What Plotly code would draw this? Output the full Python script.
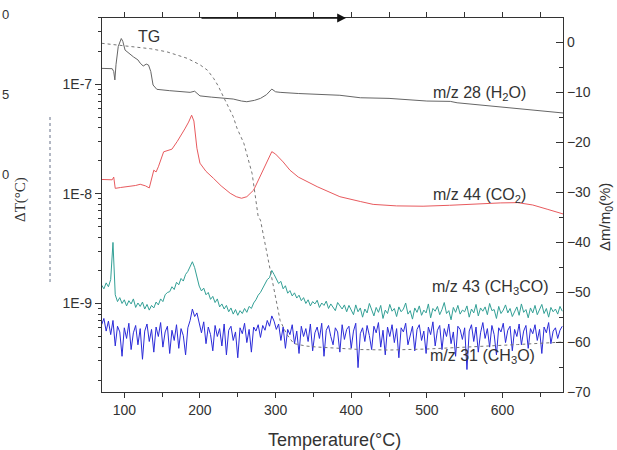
import plotly.graph_objects as go

# ---------------- data ----------------
# m/z 28 (H2O) ion current, units 1e-7 A
h2o_T = [70, 84, 86, 87.5, 89, 92, 96, 98, 101, 106, 112, 118, 121, 125, 129, 132, 135, 138, 143,
         160, 187, 193, 200, 215, 231, 244, 255, 262, 272, 280, 288, 295, 300, 306, 330, 360, 385,
         412, 450, 500, 525, 531, 540, 600, 640, 680]
h2o_v = [1.39, 1.38, 1.30, 1.09, 1.50, 2.20, 2.60, 2.45, 2.04, 1.90, 1.77, 1.66, 1.55, 1.46, 1.52, 1.49,
         1.30, 0.98, 0.895, 0.87, 0.84, 0.86, 0.78, 0.76, 0.74, 0.73, 0.70, 0.69, 0.71, 0.74, 0.80, 0.90,
         0.85, 0.84, 0.82, 0.80, 0.79, 0.75, 0.74, 0.70, 0.69, 0.695, 0.675, 0.617, 0.58, 0.545]

# m/z 44 (CO2) ion current, units 1e-8 A
co2_T = [70, 80, 84, 86, 88, 95, 105, 115, 121, 128, 133, 136, 139, 142, 145, 152, 158, 163, 170, 174,
         180, 185, 189, 192, 196, 200, 208, 218, 228, 240, 248, 255, 262, 271, 280, 288, 295, 300, 310,
         319, 330, 355, 385, 412, 429, 460, 495, 530, 560, 597, 620, 640, 660, 680]
co2_v = [1.35, 1.33, 1.34, 1.42, 1.12, 1.14, 1.16, 1.19, 1.22, 1.18, 1.13, 1.35, 1.64, 1.58, 1.76, 2.41,
         2.50, 2.55, 3.00, 3.30, 3.90, 4.50, 5.20, 4.60, 2.60, 1.90, 1.60, 1.38, 1.18, 1.01, 0.94, 0.91,
         0.94, 1.08, 1.45, 1.95, 2.42, 2.30, 1.95, 1.64, 1.42, 1.16, 0.94, 0.85, 0.80, 0.775, 0.77, 0.785,
         0.805, 0.825, 0.83, 0.79, 0.72, 0.655]

# m/z 43 (CH3CO) ion current, units 1e-10 A, sampled every 3 degC from 70 degC
ch3co_v = [14.7, 13.6, 15.4, 14.2, 16.5, 36.0, 12.0, 10.4, 11.3, 10.0,
           10.8, 9.5, 10.6, 9.9, 11.0, 9.2, 10.1, 9.4, 10.3, 8.9,
           9.8, 8.7, 9.6, 9.1, 10.3, 9.7, 11.0, 10.4, 12.0, 12.6,
           12.8, 14.2, 13.4, 15.6, 14.8, 16.9, 16.0, 18.4, 19.6, 21.5,
           24.0, 21.2, 17.5, 14.4, 13.0, 13.8, 12.0, 12.6, 10.9, 11.6,
           10.2, 11.0, 9.3, 9.9, 8.9, 9.6, 8.4, 9.1, 8.0, 8.8,
           7.8, 8.6, 8.1, 9.0, 8.3, 9.4, 9.0, 10.1, 10.8, 11.9,
           12.6, 13.8, 14.9, 16.5, 17.2, 20.0, 18.4, 16.8, 15.2, 15.9,
           13.6, 14.5, 12.4, 13.1, 11.7, 12.5, 11.2, 11.9, 10.6, 11.3,
           10.0, 10.8, 9.5, 10.4, 9.9, 10.7, 9.2, 10.1, 9.6, 10.5,
           9.0, 9.9, 9.3, 8.6, 10.2, 9.4, 8.9, 9.7, 8.4, 9.6,
           8.8, 7.9, 9.7, 8.4, 9.1, 7.5, 8.9, 8.2, 10.0, 8.6,
           7.7, 9.2, 8.3, 9.6, 7.3, 8.7, 8.1, 9.8, 8.5, 9.0,
           7.6, 9.3, 8.4, 8.9, 10.1, 8.0, 8.6, 7.2, 9.1, 8.3,
           9.5, 7.8, 8.7, 8.2, 9.9, 7.4, 9.0, 8.5, 9.4, 7.9,
           8.8, 10.2, 8.1, 8.6, 7.1, 9.2, 8.3, 9.6, 8.0, 8.7,
           8.4, 9.5, 7.5, 8.9, 8.2, 9.8, 7.7, 9.1, 8.5, 9.3,
           7.9, 10.0, 8.6, 8.8, 7.3, 9.4, 8.1, 8.7, 9.7, 8.2,
           9.0, 7.6, 8.5, 9.3, 7.8, 9.9, 8.3, 8.8, 7.4, 9.1,
           8.2, 9.6, 7.9, 8.7, 9.8, 8.1, 9.0, 7.5, 9.2, 8.4,
           8.9, 8.0, 9.4, 8.5]

# m/z 31 (CH3O) ion current, units 1e-10 A, sampled every 3 degC from 70 degC
ch3o_v = [6.4, 7.3, 5.6, 6.9, 5.2, 7.0, 4.1, 6.2, 5.5, 3.3,
          6.0, 4.8, 6.6, 3.8, 5.4, 6.3, 4.2, 5.9, 3.1, 5.6,
          6.5, 4.5, 5.8, 3.6, 6.1, 5.0, 6.7, 4.0, 5.5, 6.2,
          3.5, 5.7, 4.6, 6.4, 3.9, 5.9, 5.1, 3.4, 6.0, 7.0,
          8.9, 7.6, 8.2, 6.5, 5.4, 6.8, 4.3, 6.1, 5.2, 3.7,
          6.3, 5.0, 5.9, 4.1, 6.5, 3.4, 5.7, 6.2, 4.6, 5.5,
          3.2, 6.0, 5.3, 6.6, 4.4, 5.8, 3.6, 6.1, 5.6, 6.4,
          4.9, 6.3, 5.7, 7.0, 6.2, 7.7, 6.9, 5.8, 6.5, 4.6,
          6.1, 3.9, 5.8, 5.2, 6.4, 4.3, 5.6, 3.5, 6.2, 5.0,
          5.9, 4.5, 6.5, 3.7, 5.4, 6.1, 4.8, 6.6, 3.3, 5.7,
          6.3, 5.0, 4.2, 6.0, 5.5, 3.6, 6.4, 4.7, 5.8, 6.2,
          3.9, 5.6, 6.6, 2.6, 5.3, 6.0, 4.5, 6.3, 5.1, 3.8,
          6.2, 5.4, 6.7, 4.0, 5.7, 3.4, 6.1, 5.0, 6.4, 4.4,
          5.9, 3.2, 6.0, 5.5, 6.6, 4.2, 5.3, 6.2, 3.7, 5.8,
          6.4, 4.6, 5.6, 3.5, 6.1, 5.2, 6.8, 4.1, 5.7, 6.3,
          3.8, 5.9, 5.0, 6.5, 4.3, 5.5, 3.3, 6.2, 5.8, 4.7,
          6.0, 2.5, 5.6, 6.4, 4.5, 6.1, 3.6, 5.4, 6.7, 4.8,
          5.9, 4.0, 6.3, 5.2, 3.4, 6.0, 5.5, 6.6, 4.4, 5.7,
          6.2, 3.7, 5.8, 5.0, 6.5, 4.2, 5.6, 6.3, 3.9, 5.9,
          5.3, 6.4, 4.6, 5.8, 3.5, 6.1, 5.4, 6.7, 4.3, 5.6,
          6.0, 4.8, 5.7, 6.2]
noisy_T0, noisy_dT = 70, 3

# TG mass change (%)
tg_T = [70, 90, 112, 135, 156, 170, 183, 200, 210, 218, 224, 231, 238, 244, 249, 258, 269, 277, 280,
        289, 297, 306, 315, 324, 340, 355, 412, 450, 500, 560, 620, 680]
tg_v = [-0.2, -0.5, -0.9, -1.3, -1.9, -2.5, -3.2, -4.5, -5.6, -7.2, -8.7, -10.9, -13.0, -14.9, -17.2,
        -20.2, -26.3, -34.9, -35.6, -42.3, -49.0, -55.7, -58.5, -60.3, -60.8, -61.0, -61.5, -61.6, -61.4,
        -61.0, -60.5, -60.0]

x_ticks = [100, 200, 300, 400, 500, 600]
x_minor = [150, 250, 350, 450, 550, 650]
left_ticks = [1e-9, 1e-8, 1e-7]
left_ticktext = ["1E-9", "1E-8", "1E-7"]

# ---------------- figure ----------------
noisy_T = [noisy_T0 + noisy_dT * i for i in range(len(ch3co_v))]
noisy_T31 = [noisy_T0 + noisy_dT * i for i in range(len(ch3o_v))]

FONT = "Liberation Sans, Arial, sans-serif"
TXT = "#333333"
AX = "#333333"
XR = [70.5, 680]
YR = [-9.807, -6.398]

fig = go.Figure()
fig.add_trace(go.Scatter(x=noisy_T31, y=[v * 1e-10 for v in ch3o_v], mode="lines",
                         line=dict(color="#2b2bd9", width=1), xaxis="x", yaxis="y"))
fig.add_trace(go.Scatter(x=noisy_T, y=[v * 1e-10 for v in ch3co_v], mode="lines",
                         line=dict(color="#33a096", width=1), xaxis="x", yaxis="y"))
fig.add_trace(go.Scatter(x=co2_T, y=[v * 1e-8 for v in co2_v], mode="lines",
                         line=dict(color="#e85a5e", width=1), xaxis="x", yaxis="y"))
fig.add_trace(go.Scatter(x=h2o_T, y=[v * 1e-7 for v in h2o_v], mode="lines",
                         line=dict(color="#666666", width=1), xaxis="x", yaxis="y"))
fig.add_trace(go.Scatter(x=tg_T, y=tg_v, mode="lines", line=dict(color="#777777", width=1, dash="dot"),
                         xaxis="x", yaxis="y2"))
# helper (invisible) trace so that the extra tick axes are drawn
fig.add_trace(go.Scatter(x=[XR[0]], y=[1e-8], mode="markers", marker=dict(opacity=0),
                         xaxis="x2", yaxis="y3", hoverinfo="skip"))

minor_log = [m * 10.0 ** e for e in (-10, -9, -8, -7) for m in range(2, 10)]

fig.update_layout(
    width=617, height=450,
    margin=dict(l=102, r=54, t=18, b=58, autoexpand=False),
    paper_bgcolor="white", plot_bgcolor="white",
    showlegend=False,
    font=dict(family=FONT, size=13, color=TXT),
    xaxis=dict(range=XR, tickvals=x_ticks, ticks="outside", ticklen=5, tickwidth=1, tickcolor=AX,
               showline=True, linecolor=AX, linewidth=1.2, mirror=True, showgrid=False,
               zeroline=False, tickfont=dict(size=14), automargin=False,
               minor=dict(tickvals=x_minor, ticks="outside", ticklen=4, tickcolor=AX)),
    xaxis2=dict(range=XR, overlaying="x", side="top", anchor="y", tickvals=x_ticks + x_minor,
                ticks="outside", ticklen=5, tickcolor=AX, showticklabels=False, showline=False,
                showgrid=False, zeroline=False, automargin=False),
    yaxis=dict(type="log", range=YR, tickvals=left_ticks, ticktext=left_ticktext,
               ticks="outside", ticklen=6, tickcolor=AX, showline=True, linecolor=AX, linewidth=1.2,
               showgrid=False, zeroline=False, tickfont=dict(size=14), automargin=False),
    yaxis3=dict(type="log", range=YR, overlaying="y", side="left", anchor="x", tickvals=minor_log,
                ticks="outside", ticklen=3, tickcolor=AX, showticklabels=False, showline=False,
                showgrid=False, zeroline=False, automargin=False),
    yaxis2=dict(overlaying="y", side="right", anchor="x", range=[-70, 4.86], dtick=10, tick0=0,
                ticks="inside", ticklen=7, tickcolor=AX, showline=True, linecolor=AX, linewidth=1.2,
                showgrid=False, zeroline=False, tickfont=dict(size=14), automargin=False,
                minor=dict(dtick=5, ticks="inside", ticklen=4, tickcolor=AX)),
)

W = 617 - 102 - 54
H = 450 - 18 - 58
def px(xp):
    return (xp - 102) / W
def py(yp):
    return 1 - (yp - 18) / H

def paper_text(xp, yp, text, size, xanchor="center", angle=0, family=FONT):
    fig.add_annotation(x=px(xp), y=py(yp), xref="paper", yref="paper", text=text, showarrow=False,
                       xanchor=xanchor, yanchor="middle", textangle=angle,
                       font=dict(family=family, size=size, color=TXT))

# axis titles
paper_text(334, 440, "Temperature(°C)", 18)
paper_text(605, 217, "Δm/m<sub>0</sub>(%)", 15, angle=-90)

lab_font = dict(family=FONT, size=16, color=TXT)
for xx, yy, t in ((570, -7.082, "m/z 28 (H<sub>2</sub>O)"),
                  (570, -8.012, "m/z 44 (CO<sub>2</sub>)"),
                  (583, -8.85, "m/z 43 (CH<sub>3</sub>CO)"),
                  (574, -9.48, "m/z 31 (CH<sub>3</sub>O)"),
                  (132, -6.568, "TG")):
    fig.add_annotation(x=xx, y=yy, xref="x", yref="y", text=t, showarrow=False,
                       xanchor="center", yanchor="middle", font=lab_font)

# remnants of the neighbouring panel on the left
for t, yy in (("0", 15), ("5", 95), ("0", 174)):
    paper_text(0, yy, t, 13, xanchor="left")
paper_text(21, 200, "ΔT(°C)", 15, angle=-90, family="Liberation Serif, Times New Roman, serif")
fig.add_shape(type="line", xref="paper", yref="paper", x0=px(50), x1=px(50), y0=py(117), y1=py(284),
              line=dict(color="#667088", width=1, dash="3px,3px"))

# arrow along the top frame
fig.add_annotation(x=px(346), y=py(18), xref="paper", yref="paper", ax=-146, ay=0, text="",
                   showarrow=True, arrowhead=2, arrowsize=1.1, arrowwidth=1.6, arrowcolor="#111111")

fig.write_html("out.html", config={"displayModeBar": False},
               post_script="document.body.style.margin='0';document.body.style.overflow='hidden';")
